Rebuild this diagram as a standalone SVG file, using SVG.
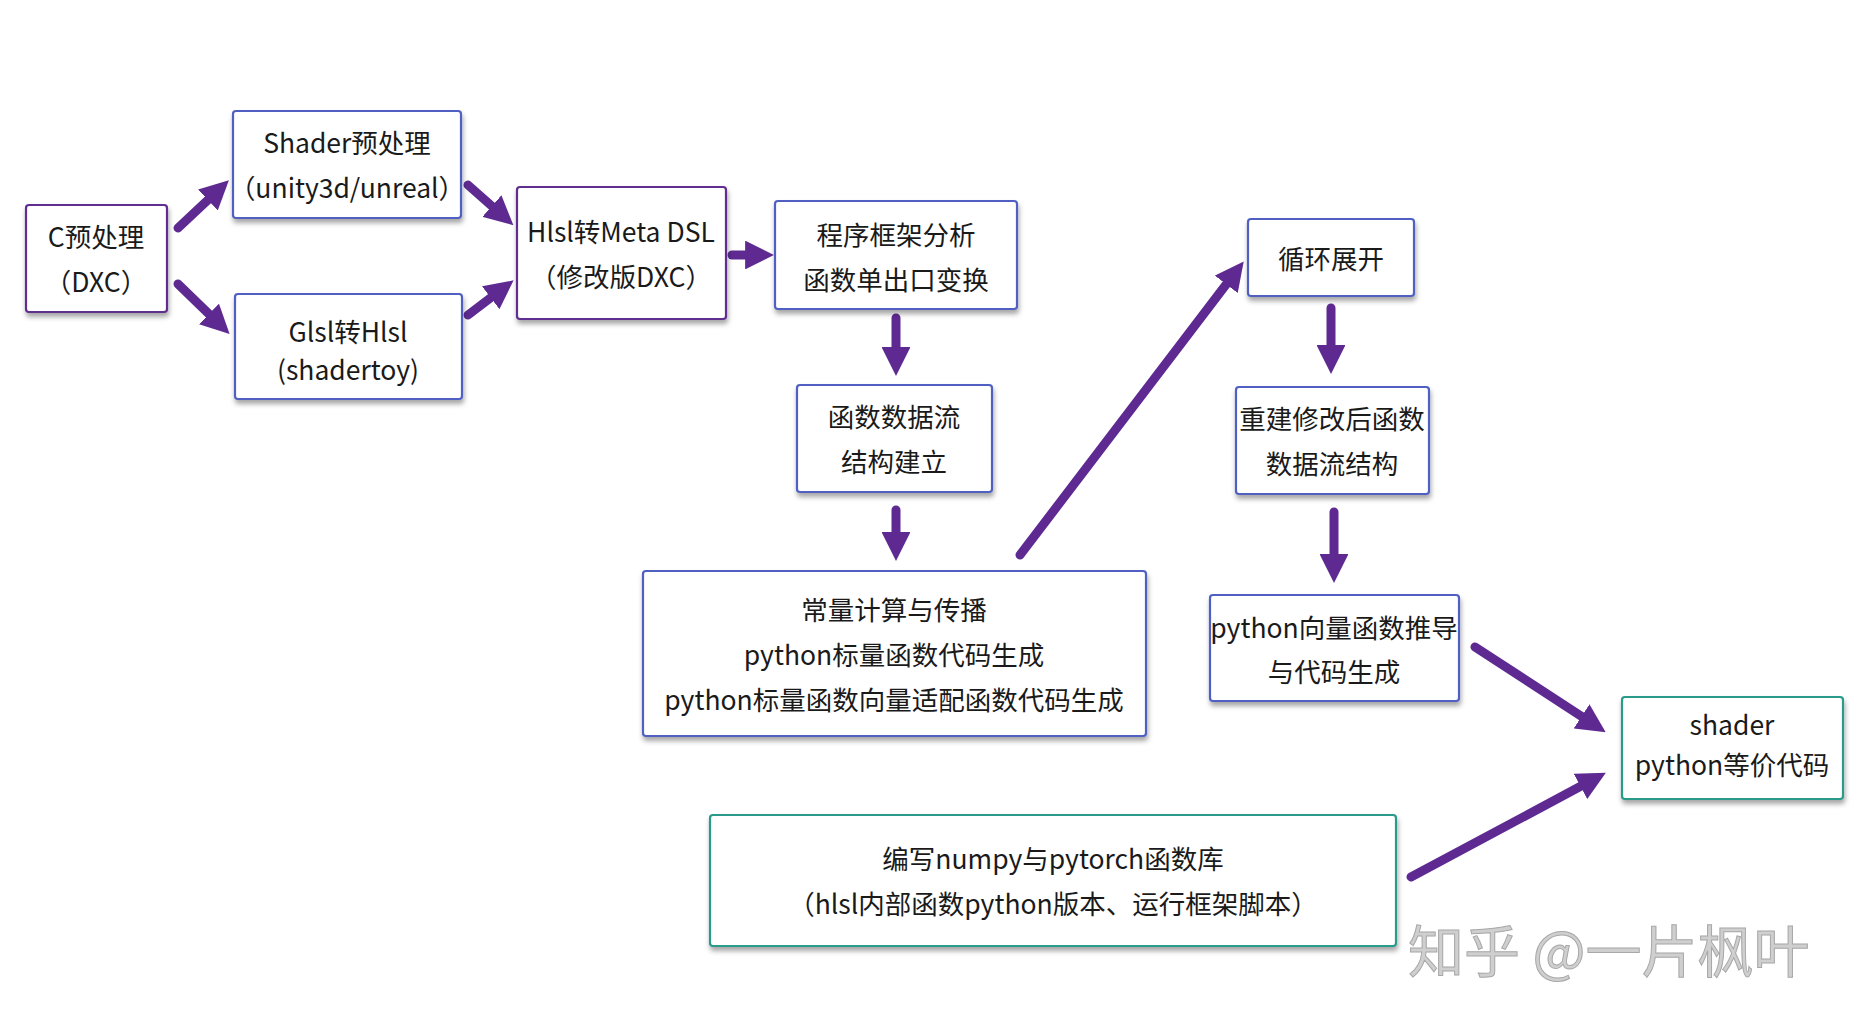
<svg xmlns="http://www.w3.org/2000/svg" width="1858" height="1024" viewBox="0 0 1858 1024">
<defs>
  <filter id="sh" x="-10%" y="-10%" width="120%" height="130%">
    <feDropShadow dx="1" dy="4" stdDeviation="2.5" flood-color="#000" flood-opacity="0.35"/>
  </filter>
  <marker id="ah" viewBox="0 0 10 10" refX="1" refY="5" markerWidth="3.2" markerHeight="3.2" orient="auto">
    <path d="M0,0 L10,5 L0,10 z" fill="#5e2a92"/>
  </marker>
  <style>
    .box{fill:#fff;stroke-width:2.2;filter:url(#sh)}
    .b{stroke:#5061c2}
    .p{stroke:#5e2d8e}
    .t{stroke:#2a9a8a}
    text{font-family:"Noto Sans CJK SC","Noto Sans",sans-serif;font-size:26.5px;fill:#1a1a1a;text-anchor:middle;dominant-baseline:central}
    .ar{stroke:#5e2a92;stroke-width:9;fill:none;stroke-linecap:round;marker-end:url(#ah)}
    .wm{font-size:56px;fill:#cfcfcf;stroke:#a8a8a8;stroke-width:1;text-anchor:start}
  </style>
</defs>
<rect width="1858" height="1024" fill="#fff"/>

<g id="connectors">
  <line class="ar" x1="178" y1="228" x2="210" y2="198"/>
  <line class="ar" x1="178" y1="284" x2="211" y2="316"/>
  <line class="ar" x1="468" y1="185" x2="494" y2="208"/>
  <line class="ar" x1="468" y1="315" x2="493" y2="296"/>
  <line class="ar" x1="732" y1="255" x2="748" y2="255"/>
  <line class="ar" x1="896" y1="318" x2="896" y2="350"/>
  <line class="ar" x1="896" y1="510" x2="896" y2="535"/>
  <line class="ar" x1="1020" y1="555" x2="1228" y2="282"/>
  <line class="ar" x1="1331" y1="308" x2="1331" y2="348"/>
  <line class="ar" x1="1334" y1="512" x2="1334" y2="557"/>
  <line class="ar" x1="1475" y1="647" x2="1584" y2="718"/>
  <line class="ar" x1="1411" y1="877" x2="1583" y2="785"/>
</g>

<g id="n_cpre">
  <rect class="box p" x="26" y="205" width="141" height="107" rx="3"/>
  <text x="96" y="235">C预处理</text>
  <text x="96" y="280">（DXC）</text>
</g>
<g id="n_shader">
  <rect class="box b" x="233" y="111" width="228" height="107" rx="3"/>
  <text x="347" y="141">Shader预处理</text>
  <text x="347" y="186">（unity3d/unreal）</text>
</g>
<g id="n_glsl">
  <rect class="box b" x="235" y="294" width="227" height="105" rx="3"/>
  <text x="348" y="330">Glsl转Hlsl</text>
  <text x="348" y="368">(shadertoy)</text>
</g>
<g id="n_hlsl">
  <rect class="box p" x="517" y="187" width="209" height="132" rx="3"/>
  <text x="621" y="230">Hlsl转Meta DSL</text>
  <text x="621" y="275">（修改版DXC）</text>
</g>
<g id="n_frame">
  <rect class="box b" x="775" y="201" width="242" height="108" rx="3"/>
  <text x="896" y="233">程序框架分析</text>
  <text x="896" y="278">函数单出口变换</text>
</g>
<g id="n_dataflow">
  <rect class="box b" x="797" y="385" width="195" height="107" rx="3"/>
  <text x="894" y="415">函数数据流</text>
  <text x="894" y="460">结构建立</text>
</g>
<g id="n_const">
  <rect class="box b" x="643" y="571" width="503" height="165" rx="3"/>
  <text x="894" y="608">常量计算与传播</text>
  <text x="894" y="653">python标量函数代码生成</text>
  <text x="894" y="698">python标量函数向量适配函数代码生成</text>
</g>
<g id="n_loop">
  <rect class="box b" x="1248" y="219" width="166" height="77" rx="3"/>
  <text x="1331" y="257">循环展开</text>
</g>
<g id="n_rebuild">
  <rect class="box b" x="1236" y="387" width="193" height="107" rx="3"/>
  <text x="1332" y="417">重建修改后函数</text>
  <text x="1332" y="462">数据流结构</text>
</g>
<g id="n_vec">
  <rect class="box b" x="1210" y="595" width="249" height="106" rx="3"/>
  <text x="1334" y="626">python向量函数推导</text>
  <text x="1334" y="670">与代码生成</text>
</g>
<g id="n_out">
  <rect class="box t" x="1622" y="697" width="221" height="102" rx="3"/>
  <text x="1732" y="723">shader</text>
  <text x="1732" y="763">python等价代码</text>
</g>
<g id="n_lib">
  <rect class="box t" x="710" y="815" width="686" height="131" rx="3"/>
  <text x="1053" y="857">编写numpy与pytorch函数库</text>
  <text x="1053" y="902">（hlsl内部函数python版本、运行框架脚本）</text>
</g>

<text class="wm" x="1408" y="947">知乎 @一片枫叶</text>
</svg>
